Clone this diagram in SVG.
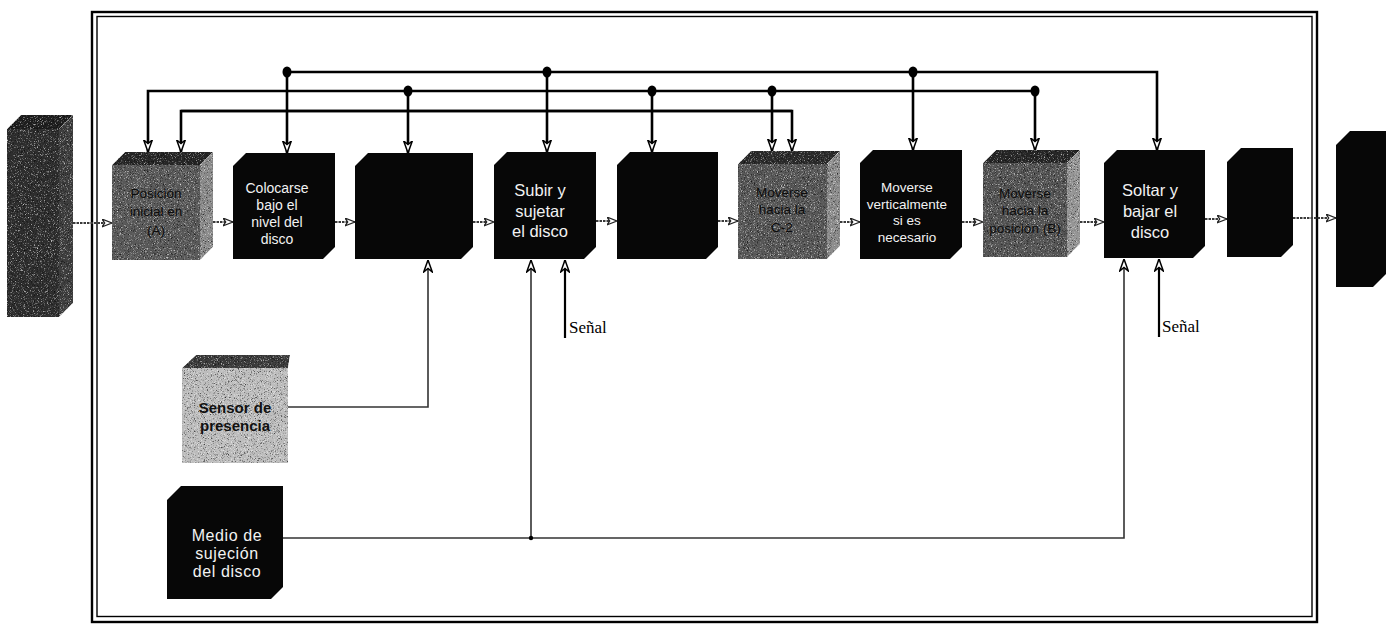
<svg xmlns="http://www.w3.org/2000/svg" width="1390" height="624" viewBox="0 0 1390 624">
<style>
  .blk{fill:#070707}
  .wt{font-family:"Liberation Sans",Arial,sans-serif;fill:#f2f2f2;text-anchor:middle}
  .gt{font-family:"Liberation Sans",Arial,sans-serif;fill:#0c0c0c;text-anchor:middle;font-size:13.5px}
  .bus{fill:none;stroke:#000;stroke-width:2.6}
  .flow{fill:none;stroke:#3a3a3a;stroke-width:2;stroke-dasharray:2.5 1}
  .thin{fill:none;stroke:#333;stroke-width:1.6}
  .sig{fill:none;stroke:#000;stroke-width:2.2}
  .frame{fill:none;stroke:#000}
  .sen{font-family:"Liberation Serif","Times New Roman",serif;font-size:17px;fill:#000}
</style>
<defs>
  <marker id="ab" viewBox="0 0 13 10" refX="12.5" refY="5" markerWidth="13" markerHeight="10" orient="auto" markerUnits="userSpaceOnUse">
    <path d="M0.5,0.7 L12.5,5 L0.5,9.3 L4,5 Z" fill="#fff" stroke="#000" stroke-width="1.5"/>
  </marker>
  <marker id="as" viewBox="0 0 11 9" refX="10.5" refY="4.5" markerWidth="11" markerHeight="9" orient="auto" markerUnits="userSpaceOnUse">
    <path d="M0.5,0.6 L10.5,4.5 L0.5,8.4 L3.2,4.5 Z" fill="#fff" stroke="#222" stroke-width="1.3"/>
  </marker>
  <filter id="grain" x="0" y="0" width="100%" height="100%" color-interpolation-filters="sRGB">
    <feTurbulence type="fractalNoise" baseFrequency="1.3" numOctaves="2" seed="4" result="t"/>
    <feColorMatrix in="t" type="matrix" values="0 0 0 0 0  0 0 0 0 0  0 0 0 0 0  -2.4 0 0 0 1.05" result="dk"/>
    <feColorMatrix in="t" type="matrix" values="0 0 0 0 1  0 0 0 0 1  0 0 0 0 1  2.4 0 0 0 -1.35" result="lt"/>
    <feMerge result="m"><feMergeNode in="SourceGraphic"/><feMergeNode in="dk"/><feMergeNode in="lt"/></feMerge>
    <feComposite in="m" in2="SourceGraphic" operator="in"/>
  </filter>
</defs>
<rect width="1390" height="624" fill="#fff"/>

<g id="frame">
  <rect class="frame" x="92" y="12" width="1225" height="610" stroke-width="2.4"/>
  <rect class="frame" x="97" y="16.5" width="1215" height="600" stroke-width="1.4"/>
</g>

<g id="connectors">
  <path class="bus" d="M287,72 H1157 V150" marker-end="url(#ab)"/>
  <path class="bus" d="M287,72 V153" marker-end="url(#ab)"/>
  <path class="bus" d="M547,72 V152" marker-end="url(#ab)"/>
  <path class="bus" d="M913,72 V150" marker-end="url(#ab)"/>
  <path class="bus" d="M1035,91 H148 V152" marker-end="url(#ab)"/>
  <path class="bus" d="M408,91 V153" marker-end="url(#ab)"/>
  <path class="bus" d="M652,91 V152" marker-end="url(#ab)"/>
  <path class="bus" d="M772,91 V151" marker-end="url(#ab)"/>
  <path class="bus" d="M1035,91 V150" marker-end="url(#ab)"/>
  <path class="bus" d="M181,111 H792 V151" marker-end="url(#ab)" stroke-width="2"/>
  <path class="bus" d="M792,111 H181 V152" marker-end="url(#ab)" stroke-width="2"/>
  <g fill="#000">
    <ellipse cx="287" cy="72" rx="4.5" ry="5.5"/>
    <ellipse cx="547" cy="72" rx="4.5" ry="5.5"/>
    <ellipse cx="913" cy="72" rx="4.5" ry="5.5"/>
    <ellipse cx="408" cy="91" rx="4.5" ry="5.5"/>
    <ellipse cx="652" cy="91" rx="4.5" ry="5.5"/>
    <ellipse cx="772" cy="91" rx="4.5" ry="5.5"/>
    <ellipse cx="1035" cy="91" rx="4.5" ry="5.5"/>
  </g>
  <path class="flow" d="M73,223 H112" marker-end="url(#as)"/>
  <path class="flow" d="M213,222 H233" marker-end="url(#as)"/>
  <path class="flow" d="M335,222 H355" marker-end="url(#as)"/>
  <path class="flow" d="M473,222 H494" marker-end="url(#as)"/>
  <path class="flow" d="M596,221 H617" marker-end="url(#as)"/>
  <path class="flow" d="M718,221 H738" marker-end="url(#as)"/>
  <path class="flow" d="M840,222 H860" marker-end="url(#as)"/>
  <path class="flow" d="M962,222 H983" marker-end="url(#as)"/>
  <path class="flow" d="M1080,222 H1104" marker-end="url(#as)"/>
  <path class="flow" d="M1205,219 H1227" marker-end="url(#as)"/>
  <path class="flow" d="M1293,218 H1336" marker-end="url(#as)"/>
  <path class="thin" d="M288,407 H428 V260" marker-end="url(#ab)"/>
  <path class="thin" d="M283,538 H1124 V259" marker-end="url(#ab)"/>
  <path class="thin" d="M531,538 V260" marker-end="url(#ab)"/>
  <circle cx="531" cy="538" r="2.2" fill="#000"/>
  <path class="sig" d="M565,338 V260" marker-end="url(#ab)"/>
  <path class="sig" d="M1159,337 V259" marker-end="url(#ab)"/>
  <text class="sen" x="569" y="333">Señal</text>
  <text class="sen" x="1162" y="332">Señal</text>
</g>

<g id="input">
  <g filter="url(#grain)">
    <polygon points="7,129 21,115 73,115 59,129" fill="#1e1e1e"/>
    <polygon points="59,129 73,115 73,303 59,317" fill="#3e3e3e"/>
    <rect x="7" y="129" width="52" height="188" fill="#2e2e2e"/>
  </g>
</g>

<g id="box-a">
  <g filter="url(#grain)">
    <polygon points="112,165 125,152 213,152 200,165" fill="#262626"/>
    <polygon points="200,165 213,152 213,247 200,260" fill="#8a8a8a"/>
    <rect x="112" y="165" width="88" height="95" fill="#5a5a5a"/>
  </g>
  <text class="gt" x="156" y="198">Posición</text>
  <text class="gt" x="156" y="216">inicial en</text>
  <text class="gt" x="156" y="235">(A)</text>
</g>

<g id="box-colocarse">
  <polygon class="blk" points="233,166 246,153 335,153 335,247 323,259 233,259"/>
  <text class="wt" font-size="14" x="277" y="193">Colocarse</text>
  <text class="wt" font-size="14" x="277" y="210">bajo el</text>
  <text class="wt" font-size="14" x="277" y="227">nivel del</text>
  <text class="wt" font-size="14" x="277" y="244">disco</text>
</g>

<g id="box-3">
  <polygon class="blk" points="355,166 368,153 473,153 473,247 461,259 355,259"/>
</g>

<g id="box-subir">
  <polygon class="blk" points="494,165 507,152 596,152 596,247 584,259 494,259"/>
  <text class="wt" font-size="16.5" x="540" y="196">Subir y</text>
  <text class="wt" font-size="16.5" x="540" y="216.5">sujetar</text>
  <text class="wt" font-size="16.5" x="540" y="237">el disco</text>
</g>

<g id="box-5">
  <polygon class="blk" points="617,165 630,152 718,152 718,247 706,259 617,259"/>
</g>

<g id="box-c2">
  <g filter="url(#grain)">
    <polygon points="738,164 751,151 840,151 827,164" fill="#2a2a2a"/>
    <polygon points="827,164 840,151 840,246 827,259" fill="#8c8c8c"/>
    <rect x="738" y="164" width="89" height="95" fill="#585858"/>
  </g>
  <text class="gt" x="782" y="197">Moverse</text>
  <text class="gt" x="782" y="214">hacia la</text>
  <text class="gt" x="782" y="232">C-2</text>
</g>

<g id="box-vertical">
  <polygon class="blk" points="860,163 873,150 962,150 962,247 950,259 860,259"/>
  <text class="wt" font-size="13.5" x="907" y="192">Moverse</text>
  <text class="wt" font-size="13.5" x="907" y="208.5">verticalmente</text>
  <text class="wt" font-size="13.5" x="907" y="225">si es</text>
  <text class="wt" font-size="13.5" x="907" y="242">necesario</text>
</g>

<g id="box-b">
  <g filter="url(#grain)">
    <polygon points="983,163 996,150 1080,150 1067,163" fill="#262626"/>
    <polygon points="1067,163 1080,150 1080,244 1067,257" fill="#959595"/>
    <rect x="983" y="163" width="84" height="94" fill="#555555"/>
  </g>
  <text class="gt" x="1025" y="198">Moverse</text>
  <text class="gt" x="1025" y="215">hacia la</text>
  <text class="gt" x="1025" y="233">posición (B)</text>
</g>

<g id="box-soltar">
  <polygon class="blk" points="1104,163 1117,150 1205,150 1205,246 1193,258 1104,258"/>
  <text class="wt" font-size="16.5" x="1150" y="196">Soltar y</text>
  <text class="wt" font-size="16.5" x="1150" y="217">bajar el</text>
  <text class="wt" font-size="16.5" x="1150" y="238">disco</text>
</g>

<g id="box-10">
  <polygon class="blk" points="1227,162 1241,148 1293,148 1293,245 1281,257 1227,257"/>
</g>

<g id="output">
  <polygon class="blk" points="1336,145 1350,131 1386,131 1386,274 1373,287 1336,287"/>
</g>

<g id="sensor">
  <g filter="url(#grain)">
    <polygon points="182,368 196,355 290,355 288,368" fill="#3c3c3c"/>
    <rect x="182" y="368" width="106" height="95" fill="#bdbdbd"/>
  </g>
  <text x="235" y="413" font-family="'Liberation Sans',Arial,sans-serif" font-size="15" font-weight="bold" fill="#111" text-anchor="middle">Sensor de</text>
  <text x="235" y="431" font-family="'Liberation Sans',Arial,sans-serif" font-size="15" font-weight="bold" fill="#111" text-anchor="middle">presencia</text>
</g>

<g id="medio">
  <polygon class="blk" points="167,500 181,486 283,486 283,587 271,599 167,599"/>
  <text class="wt" font-size="16" letter-spacing="0.6" fill="#dcdcdc" x="227" y="541">Medio de</text>
  <text class="wt" font-size="16" letter-spacing="0.6" x="227" y="559">sujeción</text>
  <text class="wt" font-size="16" letter-spacing="0.6" x="227" y="577">del disco</text>
</g>
</svg>
